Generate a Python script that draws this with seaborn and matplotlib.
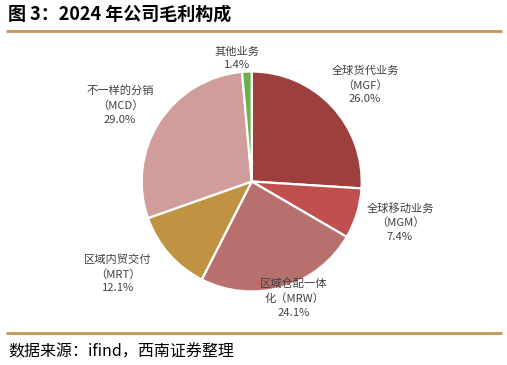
import matplotlib
matplotlib.use("Agg")
import matplotlib.pyplot as plt
import seaborn as sns

sns.set_theme(style="white")
plt.rcParams['font.family'] = ['Noto Sans CJK SC', 'DejaVu Sans']

# data
categories = ["全球货代业务\n（MGF）", "全球移动业务\n（MGM）", "区域仓配一体\n化（MRW）",
              "区域内贸交付\n（MRT）", "不一样的分销\n（MCD）", "其他业务"]
values = [26.0, 7.4, 24.1, 12.1, 29.0, 1.4]
colors = ["#9C3F3E", "#C0504D", "#B7706E", "#C09342", "#D09C9C", "#6CAE49"]

W, H = 507, 365
fig = plt.figure(figsize=(W / 100, H / 100), dpi=100)
ax = fig.add_axes([0, 0, 1, 1])

def py(y):
    return H - y

pal = sns.color_palette(colors)
cx, cy, r = 251.7, 181.5, 110
ax.pie(values, colors=pal, startangle=90, counterclock=False,
       center=(cx, py(cy)), radius=r, frame=True,
       wedgeprops=dict(edgecolor="white", linewidth=1.6))
ax.set_xlim(0, W)
ax.set_ylim(0, H)
ax.axis("off")

label_pos = [(365, 85), (400, 222), (294, 298), (118, 274), (120, 105), (237, 58)]
for cat, v, (x, y) in zip(categories, values, label_pos):
    ax.text(x, py(y), f"{cat}\n{v:.1f}%", ha="center", va="center", fontsize=8.1,
            color="#404040", linespacing=1.45)

# header / footer
ax.text(8, py(14), "图 3：2024 年公司毛利构成", ha="left", va="center", fontsize=13,
        fontweight="bold", color="black")
ax.plot([6, 502], [py(31), py(31)], color="#C8955A", lw=2, solid_capstyle="butt")
ax.plot([6, 502], [py(333), py(333)], color="#C8955A", lw=2, solid_capstyle="butt")
ax.text(8, py(352), "数据来源：ifind，西南证券整理", ha="left", va="center", fontsize=11.5,
        style="italic", color="black")

fig.savefig("out.png", dpi=100)
